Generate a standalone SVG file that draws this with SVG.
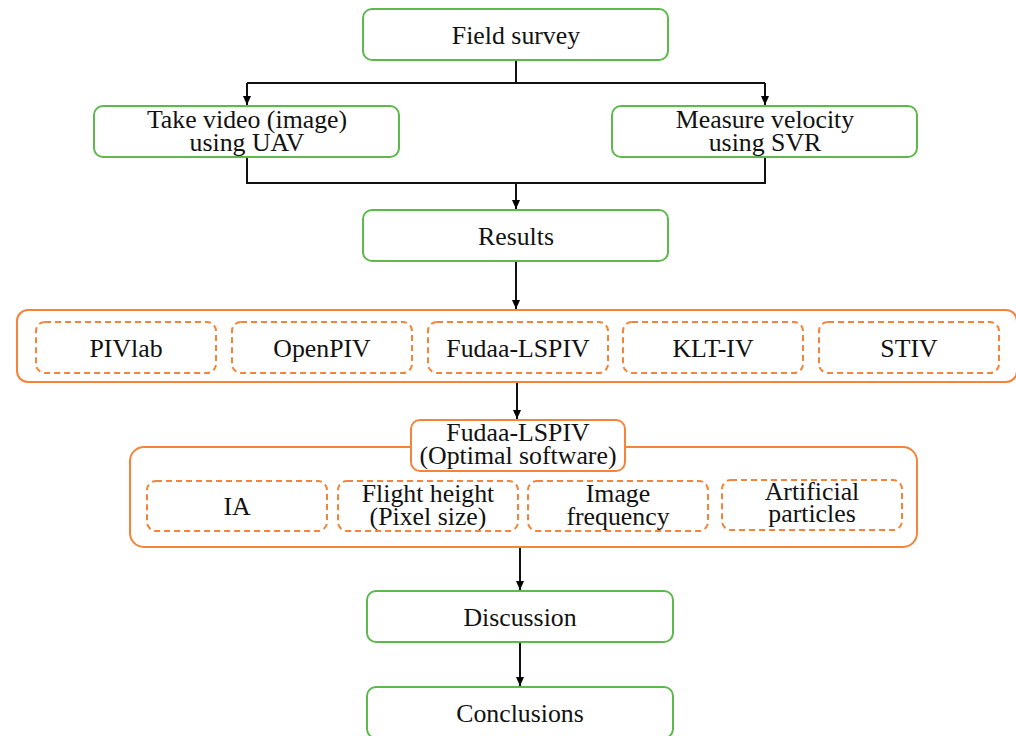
<svg xmlns="http://www.w3.org/2000/svg" width="1016" height="736" viewBox="0 0 1016 736">
<defs>
<marker id="arr" markerWidth="10" markerHeight="10" refX="9" refY="4" orient="auto" markerUnits="userSpaceOnUse">
<path d="M0,0 L9,4 L0,8 Z" fill="#000"/>
</marker>
<style>
.g{fill:#fff;stroke:#5DB94B;stroke-width:2}
.o{fill:#fff;stroke:#F5843A;stroke-width:2}
.d{fill:#fff;stroke:#F5843A;stroke-width:2;stroke-dasharray:6 4}
.t{font-family:'Liberation Serif','DejaVu Serif',serif;font-size:25.8px;fill:#111;text-anchor:middle}
.c{fill:none;stroke:#111;stroke-width:2}
</style>
</defs>
<rect width="1016" height="736" fill="#fff"/>
<g id="connectors">
<path class="c" d="M516,60 V83 M247,83 H765"/>
<path class="c" d="M247,83 V105" marker-end="url(#arr)"/>
<path class="c" d="M765,83 V105" marker-end="url(#arr)"/>
<path class="c" d="M247,157 V183 H765 V157"/>
<path class="c" d="M516,183 V209" marker-end="url(#arr)"/>
<path class="c" d="M516,261 V309" marker-end="url(#arr)"/>
<path class="c" d="M517,382 V419" marker-end="url(#arr)"/>
<path class="c" d="M520,547 V590" marker-end="url(#arr)"/>
<path class="c" d="M520,642 V686" marker-end="url(#arr)"/>
</g>
<g id="field-survey"><rect class="g" x="363" y="9" width="305" height="51" rx="9"/><text class="t" x="516" y="44">Field survey</text></g>
<g id="take-video"><rect class="g" x="94" y="106" width="305" height="51" rx="9"/><text class="t" x="247" y="128">Take video (image)<tspan x="247" dy="23">using UAV</tspan></text></g>
<g id="measure-velocity"><rect class="g" x="612" y="106" width="305" height="51" rx="9"/><text class="t" x="765" y="128">Measure velocity<tspan x="765" dy="23">using SVR</tspan></text></g>
<g id="results"><rect class="g" x="363" y="210" width="305" height="51" rx="9"/><text class="t" x="516" y="245">Results</text></g>
<g id="software-group"><rect class="o" x="17" y="310" width="1000" height="72" rx="11"/></g>
<g id="pivlab"><rect class="d" x="36" y="322" width="180" height="51" rx="9"/><text class="t" x="126" y="357">PIVlab</text></g>
<g id="openpiv"><rect class="d" x="232" y="322" width="180" height="51" rx="9"/><text class="t" x="322" y="357">OpenPIV</text></g>
<g id="fudaa-lspiv"><rect class="d" x="428" y="322" width="180" height="51" rx="9"/><text class="t" x="518" y="357">Fudaa-LSPIV</text></g>
<g id="klt-iv"><rect class="d" x="623" y="322" width="180" height="51" rx="9"/><text class="t" x="713" y="357">KLT-IV</text></g>
<g id="stiv"><rect class="d" x="819" y="322" width="180" height="51" rx="9"/><text class="t" x="909" y="357">STIV</text></g>
<g id="factors-group"><rect class="o" x="130" y="447" width="787" height="100" rx="14"/></g>
<g id="fudaa-optimal"><rect class="o" x="411" y="420" width="214" height="51" rx="9"/><text class="t" x="518" y="441">Fudaa-LSPIV<tspan x="518" dy="23">(Optimal software)</tspan></text></g>
<g id="ia"><rect class="d" x="147" y="481" width="180" height="50" rx="9"/><text class="t" x="237" y="515">IA</text></g>
<g id="flight-height"><rect class="d" x="338" y="481" width="180" height="50" rx="9"/><text class="t" x="428" y="502">Flight height<tspan x="428" dy="23">(Pixel size)</tspan></text></g>
<g id="image-frequency"><rect class="d" x="528" y="481" width="180" height="50" rx="9"/><text class="t" x="618" y="502">Image<tspan x="618" dy="23">frequency</tspan></text></g>
<g id="artificial-particles"><rect class="d" x="722" y="480" width="180" height="50" rx="9"/><text class="t" x="812" y="500">Artificial<tspan x="812" dy="22">particles</tspan></text></g>
<g id="discussion"><rect class="g" x="367" y="591" width="306" height="51" rx="9"/><text class="t" x="520" y="626">Discussion</text></g>
<g id="conclusions"><rect class="g" x="367" y="687" width="306" height="51" rx="9"/><text class="t" x="520" y="722">Conclusions</text></g>
</svg>
